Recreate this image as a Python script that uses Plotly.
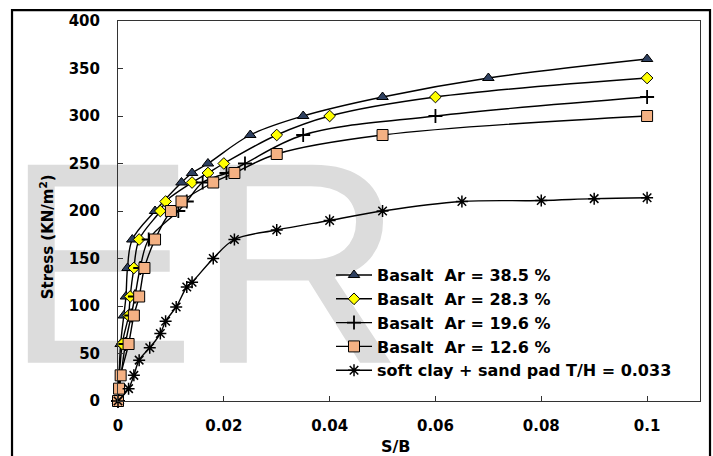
import plotly.graph_objects as go

# Settlement ratio S/B and bearing stress (kN/m2) for each test series
ar385_sb = [0, 0.0005, 0.0011, 0.0015, 0.0018, 0.0027, 0.007, 0.012, 0.014, 0.017, 0.025, 0.035, 0.05, 0.07, 0.1]
ar385_stress = [0, 60, 90, 110, 140, 170, 200, 230, 240, 250, 280, 300, 320, 340, 360]

ar283_sb = [0, 0.0008, 0.002, 0.0023, 0.003, 0.004, 0.008, 0.009, 0.014, 0.017, 0.02, 0.03, 0.04, 0.06, 0.1]
ar283_stress = [0, 60, 90, 110, 140, 170, 200, 210, 230, 240, 250, 280, 300, 320, 340]

ar196_sb = [0, 0.0014, 0.0025, 0.0032, 0.0042, 0.0058, 0.0114, 0.013, 0.016, 0.0205, 0.024, 0.035, 0.06, 0.1]
ar196_stress = [0, 60, 90, 110, 140, 170, 200, 210, 230, 240, 250, 280, 300, 320]

ar126_sb = [0, 0.0002, 0.0005, 0.002, 0.003, 0.004, 0.005, 0.007, 0.01, 0.012, 0.018, 0.022, 0.03, 0.05, 0.1]
ar126_stress = [0, 13, 27, 60, 90, 110, 140, 170, 200, 210, 230, 240, 260, 280, 300]

clay_sb = [0, 0.002, 0.003, 0.004, 0.006, 0.008, 0.009, 0.011, 0.013, 0.014, 0.018, 0.022, 0.03, 0.04, 0.05, 0.065, 0.08, 0.09, 0.1]
clay_stress = [0, 13, 27, 43, 56, 71, 84, 99, 120, 125, 150, 170, 180, 190, 200, 210, 211, 213, 214]

x_ticks = [0, 0.02, 0.04, 0.06, 0.08, 0.1]
x_tick_text = ["0", "0.02", "0.04", "0.06", "0.08", "0.1"]
y_ticks = [0, 50, 100, 150, 200, 250, 300, 350, 400]

FONT = "DejaVu Sans"
LINE = dict(color="black", width=1.4, shape="spline")

fig = go.Figure()

# light background lettering, drawn first so the curves sit over it
fig.add_trace(go.Scatter(
    x=[0.0163], y=[116], mode="text", text=["ER"],
    textposition="middle center",
    textfont=dict(family="Liberation Sans, Arial", size=288, color="#DCDCDC"),
    cliponaxis=False, hoverinfo="skip", showlegend=False,
))

series = [
    ("Basalt\u00a0 Ar = 38.5 %", ar385_sb, ar385_stress,
     dict(symbol="triangle-up", size=10, color="#2E4060", line=dict(color="black", width=1))),
    ("Basalt\u00a0 Ar = 28.3 %", ar283_sb, ar283_stress,
     dict(symbol="diamond", size=9, color="#FFFF00", line=dict(color="black", width=1))),
    ("Basalt\u00a0 Ar = 19.6 %", ar196_sb, ar196_stress,
     dict(symbol="cross-thin", size=10, color="black", line=dict(color="black", width=1.8))),
    ("Basalt\u00a0 Ar = 12.6 %", ar126_sb, ar126_stress,
     dict(symbol="square", size=11, color="#F4B183", line=dict(color="black", width=1))),
    ("soft clay + sand pad T/H = 0.033", clay_sb, clay_stress,
     dict(symbol="asterisk-open", size=10, color="black", line=dict(color="black", width=1.5))),
]

for name, xs, ys, marker in series:
    fig.add_trace(go.Scatter(
        x=xs, y=ys, name=name, mode="lines+markers",
        line=LINE, marker=marker, cliponaxis=False,
    ))

axis_common = dict(
    showline=True, linecolor="#333333", linewidth=1, mirror=True,
    ticks="inside", ticklen=5, tickcolor="#333333", tickwidth=1,
    showgrid=False, zeroline=False,
    tickfont=dict(family=FONT, size=15, color="black", weight="bold"),
)

fig.update_xaxes(range=[0, 0.11], tickvals=x_ticks, ticktext=x_tick_text,
                 ticklabelstandoff=11, **axis_common)
fig.update_yaxes(range=[0, 400], tickvals=y_ticks,
                 ticklabelstandoff=14, **axis_common)

fig.update_layout(
    width=713, height=456,
    margin=dict(l=118, r=13, t=18, b=55),
    plot_bgcolor="white", paper_bgcolor="white",
    showlegend=True,
    legend=dict(
        x=0.366, y=0.376, xanchor="left", yanchor="top",
        bgcolor="rgba(0,0,0,0)", borderwidth=0, itemwidth=36,
        font=dict(family=FONT, size=16, color="black", weight="bold"),
        tracegroupgap=0,
    ),
    annotations=[
        dict(text="Stress (KN/m<sup>2</sup>)", textangle=-90,
             xref="paper", yref="paper", x=-0.122, y=0.4334,
             xanchor="center", yanchor="middle", showarrow=False,
             font=dict(family=FONT, size=15, color="black", weight="bold")),
        dict(text="S/B", xref="paper", yref="paper", x=0.4777, y=-0.1201,
             xanchor="center", yanchor="middle", showarrow=False,
             font=dict(family=FONT, size=16, color="black", weight="bold")),
    ],
    shapes=[
        # outer frame around the whole figure
        dict(type="rect", xref="paper", yref="paper",
             x0=-0.1821, x1=1.0172, y0=-0.16, y1=1.0287,
             line=dict(color="black", width=2.2), layer="above"),
    ],
)

fig.write_html("out.html")
